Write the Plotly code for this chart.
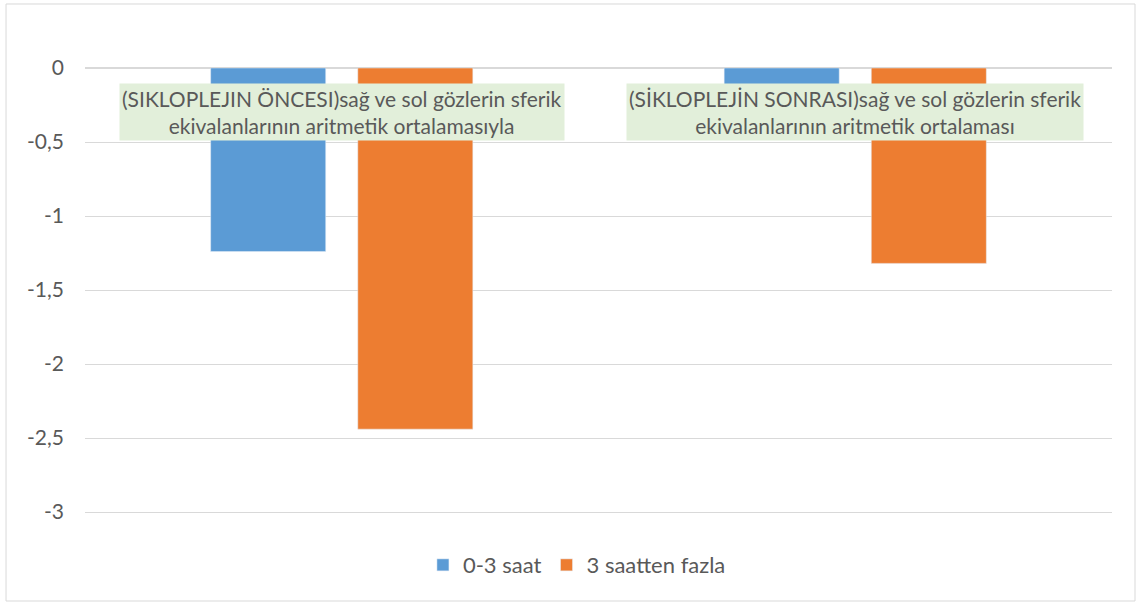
import plotly.graph_objects as go

categories = ["once", "sonra"]
category_labels = [
    "(SIKLOPLEJIN ÖNCESI)sağ ve sol gözlerin sferik<br>ekivalanlarının aritmetik ortalamasıyla",
    "(SİKLOPLEJİN SONRASI)sağ ve sol gözlerin sferik<br>ekivalanlarının aritmetik ortalaması",
]
series_names = ["0-3 saat", "3 saatten fazla"]
values_0_3 = [-1.24, -0.3]
values_3plus = [-2.44, -1.32]
tick_vals = [0, -0.5, -1, -1.5, -2, -2.5, -3]
tick_text = ["0", "-0,5", "-1", "-1,5", "-2", "-2,5", "-3"]

FONT = "Lato"
TXT = "#595959"

fig = go.Figure()
fig.add_trace(go.Bar(x=categories, y=values_0_3, name=series_names[0], marker_color="#5B9BD5"))
fig.add_trace(go.Bar(x=categories, y=values_3plus, name=series_names[1], marker_color="#ED7D31"))

for c, lab in zip(categories, category_labels):
    fig.add_annotation(x=c, y=-0.3, xref="x", yref="y", text=lab, showarrow=False,
                       bgcolor="#E2EFDA", font=dict(family=FONT, size=21, color=TXT),
                       align="center", borderpad=2)

# plot area: y 68 (0) .. 515 (-3.02)
fig.add_shape(type="rect", xref="paper", yref="paper", x0=-0.0769, x1=1.0224, y0=-0.1924, y1=1.1432,
              line=dict(color="#D9D9D9", width=1), layer="below")

fig.update_layout(
    width=1141, height=603,
    margin=dict(l=85, r=29, t=68, b=88),
    paper_bgcolor="white", plot_bgcolor="white",
    barmode="group", bargap=0.427, bargroupgap=0.218,
    font=dict(family=FONT, size=20, color=TXT),
    showlegend=True,
    legend=dict(orientation="h", x=0.479, xanchor="center", y=-0.112, yanchor="middle",
                itemwidth=30, font=dict(family=FONT, size=22, color=TXT)),
    xaxis=dict(showticklabels=False, showgrid=False, zeroline=False, showline=False, ticks=""),
    yaxis=dict(range=[-3.02, 0], tickvals=tick_vals, ticktext=tick_text, showgrid=True,
               gridcolor="#D9D9D9", gridwidth=1, zeroline=True, zerolinecolor="#D9D9D9",
               showline=False, ticks="", ticklen=0, ticklabelstandoff=20,
               tickfont=dict(family=FONT, size=21, color=TXT)),
)

fig.write_html("out.html")
